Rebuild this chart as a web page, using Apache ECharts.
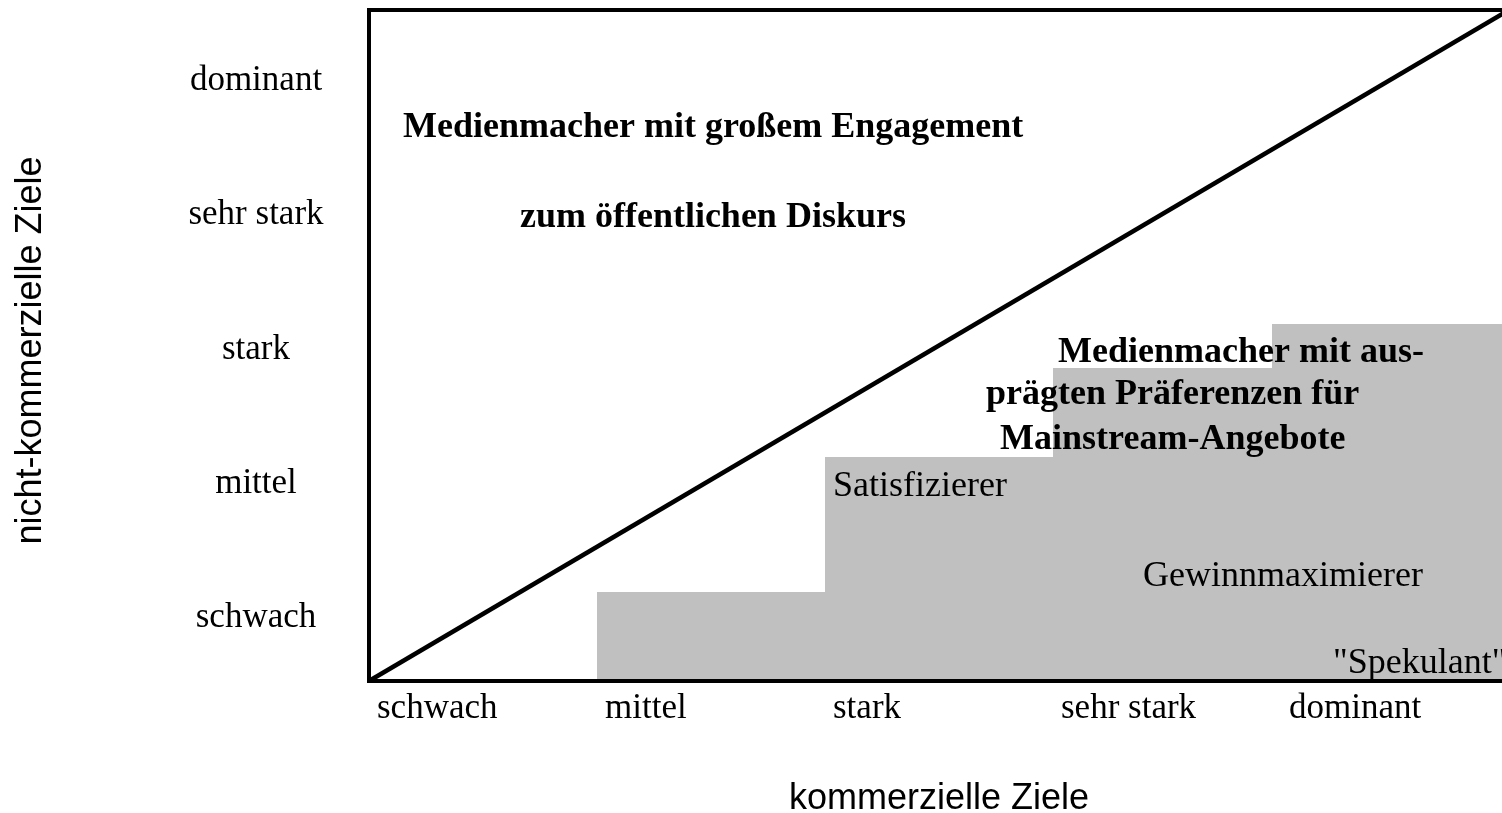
<!DOCTYPE html>
<html>
<head>
<meta charset="utf-8">
<script src="https://cdn.jsdelivr.net/npm/echarts@6/dist/echarts.min.js"></script>
<style>
html,body{margin:0;padding:0;background:#fff;}
#chart{width:1502px;height:813px;}
</style>
</head>
<body>
<div id="chart"></div>
<script>
// Axis tick labels
const xLabels = ['schwach', 'mittel', 'stark', 'sehr stark', 'dominant'];
const yLabels = ['schwach', 'mittel', 'stark', 'sehr stark', 'dominant'];
const xAxisName = 'kommerzielle Ziele';
const yAxisName = 'nicht-kommerzielle Ziele';

// Grey step area: start, end (x units), height (y units)
const stepStart = [1, 2, 3, 3.96];
const stepEnd = [2, 3, 3.96, 5];
const stepHeight = [0.66, 1.67, 2.33, 2.66];

// Diagonal line
const diagonal = [[0, 0], [5, 5]];

// Annotations (anchor in axis units, left-aligned)
const boldTexts = ['Medienmacher mit großem Engagement', 'zum öffentlichen Diskurs',
  'Medienmacher mit aus-', 'prägten Präferenzen für', 'Mainstream-Angebote'];
const boldX = [0.149, 0.662, 3.022, 2.706, 2.768];
const boldY = [4.12, 3.45, 2.45, 2.13, 1.80];
const plainTexts = ['Satisfizierer', 'Gewinnmaximierer', '"Spekulant"'];
const plainX = [2.035, 3.395, 4.228];
const plainY = [1.45, 0.78, 0.13];

const serif = 'Liberation Serif';
const sans = 'Liberation Sans';

const stepData = stepStart.map((s, i) => [s, stepEnd[i], stepHeight[i]]);
const boldData = boldTexts.map((t, i) => [boldX[i], boldY[i], t]);
const plainData = plainTexts.map((t, i) => [plainX[i], plainY[i], t]);

const chart = echarts.init(document.getElementById('chart'), null, {renderer: 'canvas'});
chart.setOption({
  animation: false,
  backgroundColor: '#fff',
  grid: {left: 369, top: 10, right: -7, bottom: 132, show: true, borderColor: '#000', borderWidth: 4,
    backgroundColor: 'transparent', containLabel: false, outerBoundsMode: 'none'},
  xAxis: [{
    type: 'value', min: 0, max: 5, interval: 1, z: 10,
    axisLine: {show: true, lineStyle: {color: '#000', width: 4}},
    axisTick: {show: false},
    splitLine: {show: false},
    axisLabel: {
      formatter: v => xLabels[Math.round(v)] || '',
      align: 'left', padding: [0, 0, 0, 8], margin: 10,
      color: '#000', fontFamily: serif, fontSize: 35
    },
    name: xAxisName, nameLocation: 'middle', nameGap: 100,
    nameTextStyle: {color: '#000', fontFamily: sans, fontSize: 36}
  }],
  yAxis: [{
    type: 'value', min: 0, max: 5, interval: 1, z: 10, position: 'left',
    axisLine: {show: true, lineStyle: {color: '#000', width: 4}},
    axisTick: {show: false},
    splitLine: {show: false},
    axisLabel: {show: false},
    name: yAxisName, nameLocation: 'middle', nameGap: 320, nameRotate: 90,
    nameTextStyle: {color: '#000', fontFamily: sans, fontSize: 36, padding: [0, 10, 0, 0]}
  }, {
    type: 'category', data: yLabels, boundaryGap: true, position: 'left',
    axisLine: {show: false}, axisTick: {show: false}, splitLine: {show: false},
    axisLabel: {align: 'center', verticalAlign: 'top', lineHeight: 8, margin: 113,
      color: '#000', fontFamily: serif, fontSize: 35}
  }],
  series: [{
    type: 'custom',
    xAxisIndex: 0, yAxisIndex: 0,
    data: stepData,
    encode: {x: [0, 1], y: 2},
    z: 1,
    renderItem: (params, api) => {
      const p0 = api.coord([api.value(0), api.value(2)]);
      const p1 = api.coord([api.value(1), 0]);
      const x0 = Math.round(p0[0]), x1 = Math.round(p1[0]) + 1;
      const y0 = Math.round(p0[1]);
      return {type: 'rect', shape: {x: x0, y: y0, width: x1 - x0, height: p1[1] - y0},
        style: {fill: '#c0c0c0'}};
    }
  }, {
    type: 'line', xAxisIndex: 0, yAxisIndex: 0, data: diagonal, symbol: 'none', z: 3,
    lineStyle: {color: '#000', width: 4.5}
  }, {
    type: 'scatter', xAxisIndex: 0, yAxisIndex: 0, data: boldData, symbolSize: 0, z: 5,
    itemStyle: {opacity: 1},
    label: {show: true, position: 'right', distance: 0, formatter: p => p.data[2],
      color: '#000', fontFamily: serif, fontSize: 36, fontWeight: 'bold'}
  }, {
    type: 'scatter', xAxisIndex: 0, yAxisIndex: 0, data: plainData, symbolSize: 0, z: 5,
    itemStyle: {opacity: 1},
    label: {show: true, position: 'right', distance: 0, formatter: p => p.data[2],
      color: '#000', fontFamily: serif, fontSize: 36}
  }]
});
</script>
</body>
</html>
